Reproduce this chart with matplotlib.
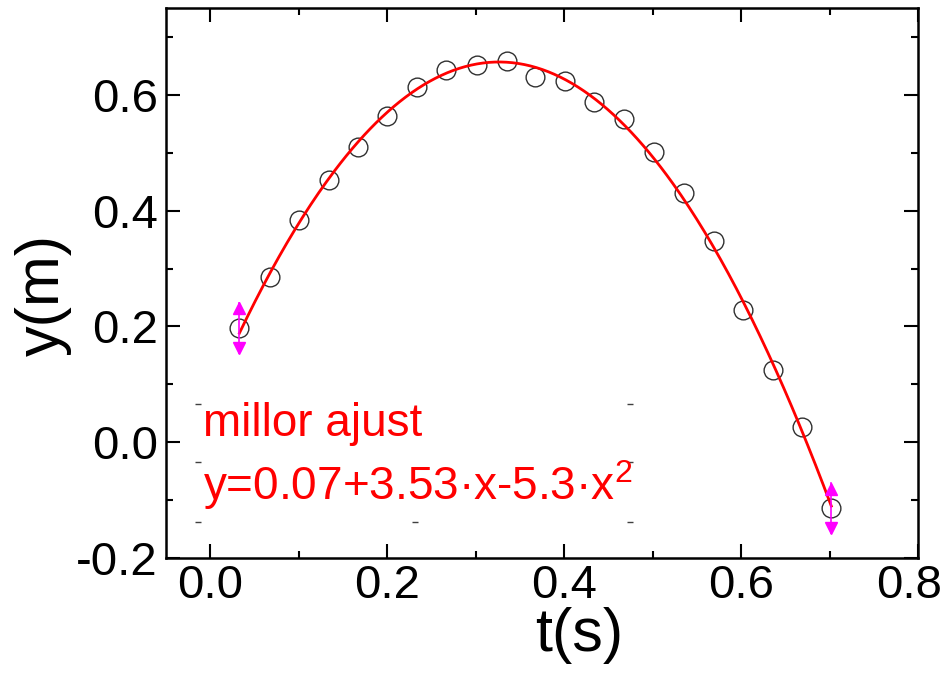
import numpy as np
import matplotlib
matplotlib.use("Agg")
import matplotlib.pyplot as plt
import matplotlib.transforms as mtransforms
from matplotlib.ticker import MultipleLocator

plt.rcParams['font.family'] = ['Liberation Sans', 'DejaVu Sans']
plt.rcParams['mathtext.fontset'] = 'custom'
plt.rcParams['mathtext.rm'] = 'Liberation Sans'

# Data
t_data = [0.033, 0.067, 0.100, 0.134, 0.167, 0.200, 0.234, 0.267, 0.301, 0.335,
          0.367, 0.401, 0.434, 0.468, 0.502, 0.535, 0.569, 0.602, 0.636, 0.669, 0.702]
y_data = [0.197, 0.286, 0.383, 0.453, 0.510, 0.564, 0.614, 0.643, 0.652, 0.659,
          0.631, 0.624, 0.588, 0.559, 0.502, 0.431, 0.348, 0.228, 0.124, 0.026, -0.114]
err_idx = [0, 20]
err_val = [0.043, 0.043]

legend_title = "millor ajust"
legend_eq = r"y=0.07+3.53·x-5.3·x$^\mathregular{2}$"
xticks = [0.0, 0.2, 0.4, 0.6, 0.8]
yticks = [-0.2, 0.0, 0.2, 0.4, 0.6]

fig = plt.figure(figsize=(9.48, 6.8), dpi=100)
ax = fig.add_axes([166/948, 1-558/680, (918-166)/948, (558-8)/680])

t = np.array(t_data)
y = np.array(y_data)
coef = np.polyfit(t, y, 2)
tf = np.linspace(t.min(), t.max(), 300)
ax.plot(tf, np.polyval(coef, tf), color='#ff0000', lw=2.0, zorder=3)

ax.plot(t, y, 'o', ms=13.5, mfc='none', mec='#303030', mew=1.0, zorder=2)

# error bars with arrow heads
for i, e in zip(err_idx, err_val):
    ax.plot([t[i], t[i]], [y[i]-e, y[i]+e], color='#ff00ff', lw=1.2, zorder=4)
    ax.plot([t[i]], [y[i]+e-0.009], marker='^', ms=8, color='#ff00ff', mec='#ff00ff', zorder=4)
    ax.plot([t[i]], [y[i]-e+0.009], marker='v', ms=8, color='#ff00ff', mec='#ff00ff', zorder=4)

ax.set_xlim(-0.05, 0.8)
ax.set_ylim(-0.2, 0.75)
ax.set_xticks(xticks)
ax.set_yticks(yticks)
ax.set_xticklabels([f"{v:.1f}" for v in xticks])
ax.set_yticklabels([f"{v:.1f}" for v in yticks])
ax.xaxis.set_minor_locator(MultipleLocator(0.1))
ax.yaxis.set_minor_locator(MultipleLocator(0.1))
ax.tick_params(which='both', direction='in', top=True, right=True, width=1.5, colors='black')
ax.tick_params(which='major', length=10, labelsize=34, pad=6)
ax.tick_params(which='minor', length=5)
ax.tick_params(axis='x', which='major', pad=4)
for s in ax.spines.values():
    s.set_linewidth(1.8)

# keep the last x tick label inside the figure, as in the reference
last = ax.get_xticklabels()[-1]
last.set_transform(last.get_transform() + mtransforms.ScaledTranslation(-9/100, 0, fig.dpi_scale_trans))

ax.set_xlabel("t(s)", fontsize=44)
ax.set_ylabel("y(m)", fontsize=44)
ax.xaxis.set_label_coords(0.549, -0.09)
ax.yaxis.set_label_coords(-0.125, 0.478)

# legend text box
ax.text(0.049, 0.222, legend_title, transform=ax.transAxes, color='#ff0000', fontsize=33, va='baseline')
ax.text(0.049, 0.105, legend_eq, transform=ax.transAxes, color='#ff0000', fontsize=33, va='baseline')
for xf, yf in [(0.0426, 0.28), (0.617, 0.28), (0.0426, 0.1745), (0.617, 0.1745),
               (0.0426, 0.0655), (0.331, 0.0655), (0.617, 0.0655)]:
    ax.plot([xf], [yf], marker='_', ms=5, mew=1.0, color='#404040', transform=ax.transAxes, clip_on=False)

fig.savefig("out.png", dpi=100)
